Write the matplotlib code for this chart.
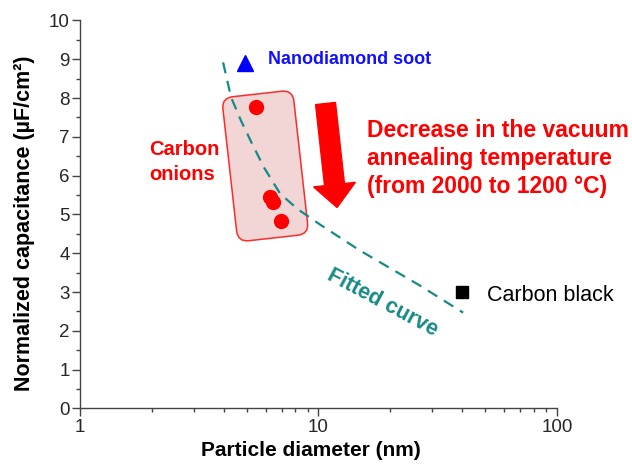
import numpy as np
import matplotlib
matplotlib.use('Agg')
import matplotlib.pyplot as plt
from matplotlib.patches import FancyBboxPatch, FancyArrow
from matplotlib.transforms import Affine2D, IdentityTransform
from matplotlib.ticker import MultipleLocator, LogLocator, NullFormatter

plt.rcParams['font.family'] = ['Liberation Sans', 'DejaVu Sans']

# values
soot_d = [4.9]
soot_c = [8.9]
onion_d = [5.47, 6.26, 6.45, 6.96]
onion_c = [7.78, 5.46, 5.33, 4.82]
black_d = [40.0]
black_c = [2.99]
fit_d = [3.98, 4.30, 4.73, 5.26, 5.91, 6.90, 8.13, 10.15, 14.93, 26.6, 40.4]
fit_c = [8.92, 8.02, 7.42, 6.83, 6.21, 5.54, 5.15, 4.74, 4.07, 3.17, 2.47]

xticks = [1, 10, 100]
xticklabels = ['1', '10', '100']
yticks = list(range(0, 11))
yticklabels = [str(v) for v in yticks]

teal = '#168a86'
red = '#ff0000'
axcol = '#444444'

fig = plt.figure(figsize=(6.32, 4.73), dpi=100)
ax = fig.add_axes([0.1266, 0.1364, 0.7547, 0.8203])
ax.set_xscale('log')
ax.set_xlim(1, 100)
ax.set_ylim(0, 10)

# rounded box around the carbon onions (tilted)
cx, cy = ax.transData.transform((5.98, 6.25))
bw, bh = 71.4, 144.9
box = FancyBboxPatch((cx - bw / 2, cy - bh / 2), bw, bh,
                     boxstyle='round,pad=0,rounding_size=11',
                     facecolor='#f2d6d6', edgecolor='#ff2a2a', linewidth=1.1,
                     transform=Affine2D().rotate_deg_around(cx, cy, 6.4) + IdentityTransform(),
                     clip_on=False, zorder=1)
ax.add_patch(box)

# fitted curve
ax.plot(fit_d, fit_c, color=teal, lw=1.6, dashes=(5, 3.5), zorder=3)

# markers
ax.plot(soot_d, soot_c, '^', color='#0000ff', ms=11, zorder=4, clip_on=False)
ax.plot(onion_d, onion_c, 'o', color=red, ms=10, zorder=4)
ax.plot(black_d, black_c, 's', color='black', ms=9, zorder=4)

# big arrow
x0, y0 = ax.transData.transform((10.7, 7.86))
x1, y1 = ax.transData.transform((11.96, 5.18))
arr = FancyArrow(x0, y0, x1 - x0, y1 - y0, width=20, head_width=42, head_length=23,
                 length_includes_head=True, color=red, transform=IdentityTransform(),
                 clip_on=False, zorder=5)
ax.add_patch(arr)

# annotations
ax.text(6.14, 8.89, 'Nanodiamond soot', color='#1010ff', fontsize=13,
        fontweight='bold', ha='left', va='baseline')
ax.text(1.947, 6.35, 'Carbon\nonions', color=red, fontsize=14.5, fontweight='bold',
        ha='left', va='center', linespacing=1.35)
ax.text(15.97, 6.45, 'Decrease in the vacuum\nannealing temperature\n(from 2000 to 1200 \u00b0C)',
        color=red, fontsize=16.5, fontweight='bold', ha='left', va='center',
        linespacing=1.28)
ax.text(50.9, 2.78, 'Carbon black', color='black', fontsize=15.5,
        ha='left', va='baseline')
ax.text(18.64, 2.73, 'Fitted curve', color=teal, fontsize=15.5, fontweight='bold',
        rotation=-28, ha='center', va='center', rotation_mode='anchor')

# axes styling
for s in ['top', 'right']:
    ax.spines[s].set_visible(False)
for s in ['left', 'bottom']:
    ax.spines[s].set_color(axcol)
    ax.spines[s].set_linewidth(1.0)

ax.set_xticks(xticks)
ax.set_xticklabels(xticklabels)
ax.xaxis.set_minor_locator(LogLocator(base=10, subs=np.arange(2, 10)))
ax.xaxis.set_minor_formatter(NullFormatter())
ax.set_yticks(yticks)
ax.set_yticklabels(yticklabels)
ax.yaxis.set_minor_locator(MultipleLocator(0.5))
ax.tick_params(which='major', direction='out', length=5.5, width=1, color=axcol,
               labelsize=13.5, labelcolor='#262626', pad=2)
ax.tick_params(which='minor', direction='out', length=3, width=1, color=axcol)

ax.set_xlabel('Particle diameter (nm)', fontsize=15, fontweight='bold')
ax.set_ylabel('Normalized capacitance (\u00b5F/cm\u00b2)', fontsize=15.5, fontweight='bold')
ax.xaxis.set_label_coords(0.483, -0.084)
ax.yaxis.set_label_coords(-0.094, 0.477)

fig.savefig('out.png', dpi=100)
